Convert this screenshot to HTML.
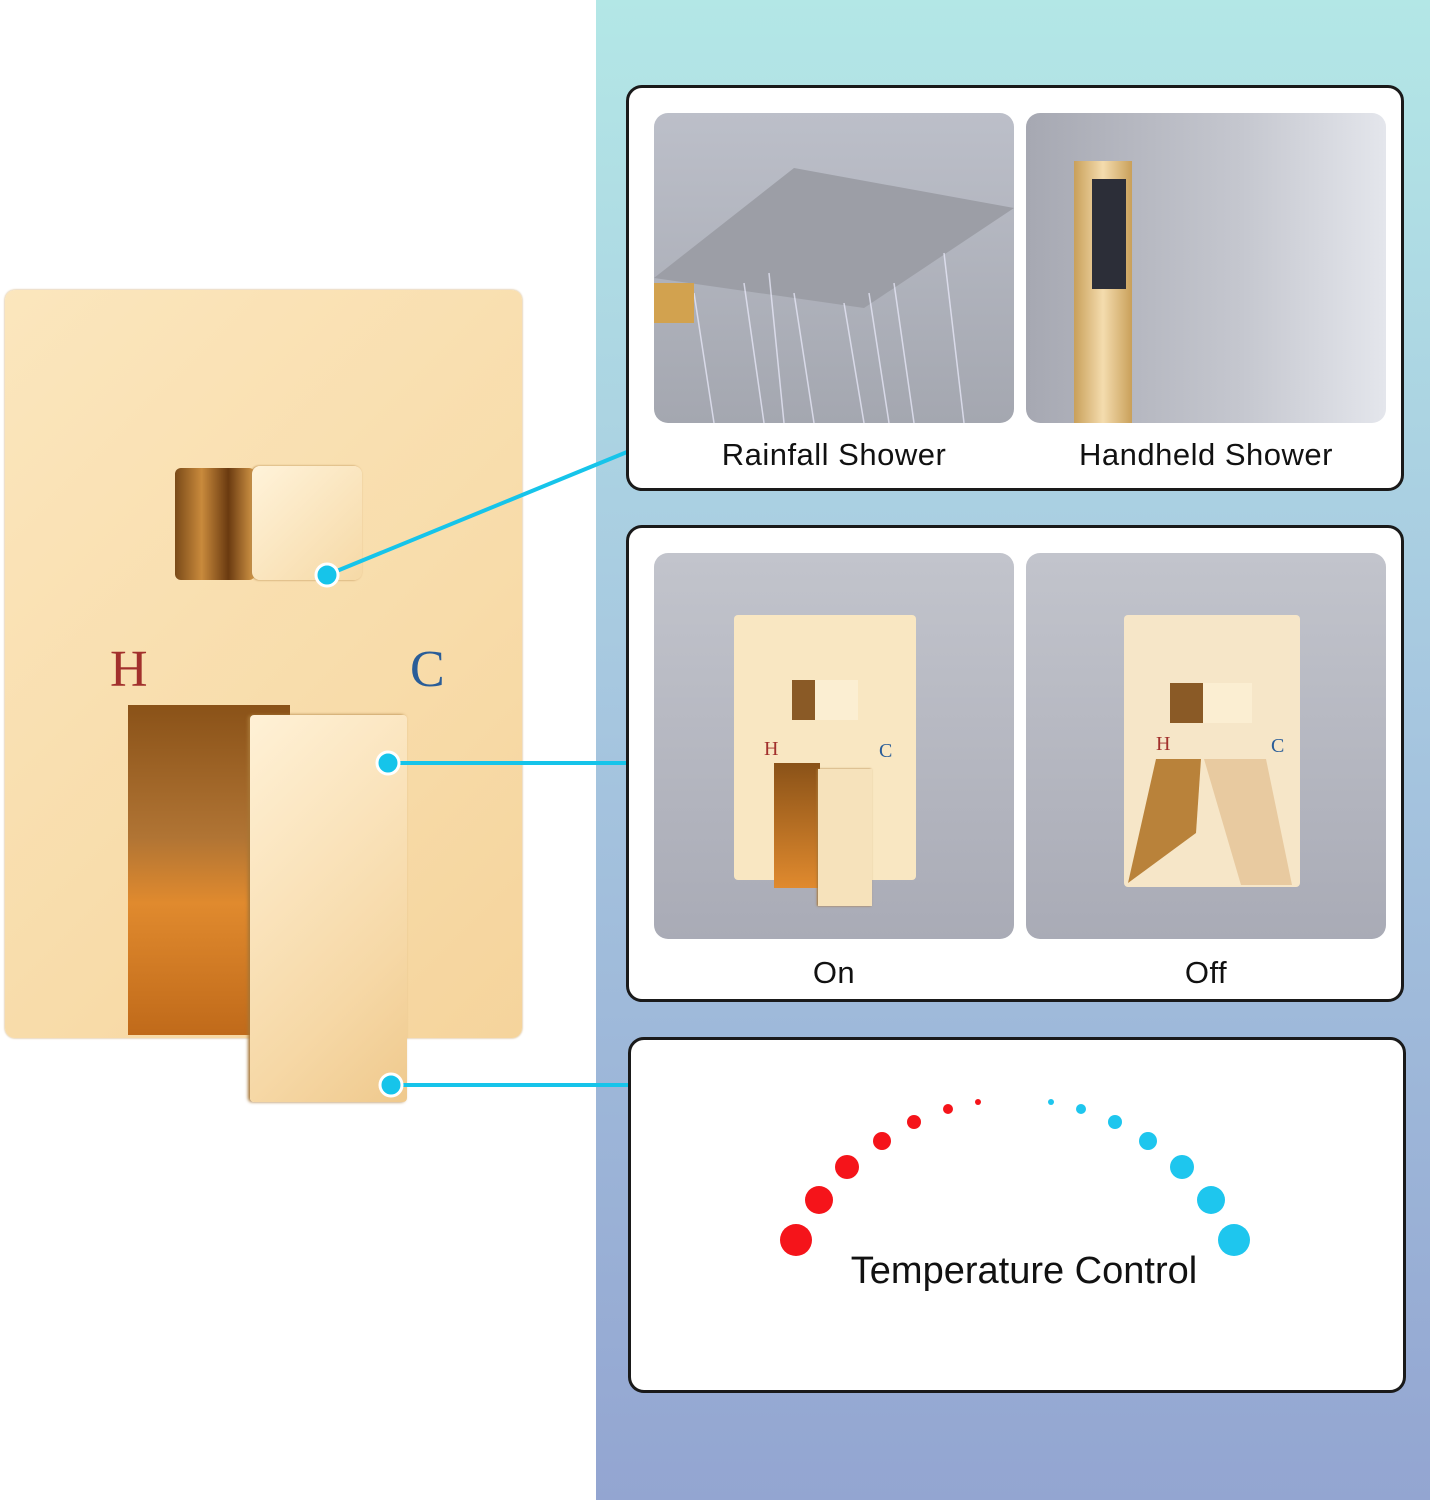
<!DOCTYPE html>
<html><head><meta charset="utf-8"><style>
*{margin:0;padding:0;box-sizing:border-box}
body{width:1430px;height:1500px;position:relative;background:#fff;overflow:hidden;font-family:"Liberation Sans",sans-serif}
.a{position:absolute}
.box{position:absolute;background:#fff;border:3px solid #1a1a1a;border-radius:16px}
.ph{position:absolute;border-radius:14px;overflow:hidden;background:linear-gradient(180deg,#c2c4cc,#a9abb6)}
.lbl{position:absolute;font-size:31px;color:#111;text-align:center;width:360px;letter-spacing:0.5px}
</style></head><body>
<div class="a" style="left:596px;top:0;width:834px;height:1500px;background:linear-gradient(180deg,#b3e7e6 0%,#a7c8e0 45%,#93a5d1 100%)"></div>

<!-- left plate -->
<div class="a" style="left:5px;top:290px;width:517px;height:748px;border-radius:10px;background:linear-gradient(135deg,#fbe6bd,#f8dcaa 60%,#f5d49c);box-shadow:0 0 2px #c9a46a"></div>
<div class="a" style="left:175px;top:468px;width:80px;height:112px;border-radius:6px;background:linear-gradient(90deg,#7a4a18,#c98a3c,#6a3a10,#d79a48)"></div>
<div class="a" style="left:252px;top:466px;width:110px;height:114px;border-radius:8px;background:linear-gradient(135deg,#fff3da,#f6d9a6);box-shadow:-1px 0 2px #b98a4c"></div>
<div class="a" style="left:110px;top:640px;font-family:'Liberation Serif',serif;font-size:52px;color:#a2302c">H</div>
<div class="a" style="left:410px;top:640px;font-family:'Liberation Serif',serif;font-size:52px;color:#2a5d98">C</div>
<div class="a" style="left:128px;top:705px;width:162px;height:330px;background:linear-gradient(180deg,#8a5218 0%,#b07434 40%,#e08a2e 60%,#c06a1a 100%)"></div>
<div class="a" style="left:250px;top:715px;width:157px;height:387px;border-radius:4px;background:linear-gradient(135deg,#fff1d6,#f6d8a6 70%,#efc98d);box-shadow:-2px 0 3px #a77636"></div>

<!-- connectors -->
<svg class="a" style="left:0;top:0" width="1430" height="1500">
<g stroke="#16c4ea" stroke-width="4"><line x1="327" y1="575" x2="627" y2="452"/><line x1="388" y1="763" x2="627" y2="763"/><line x1="391" y1="1085" x2="629" y2="1085"/></g>
<g fill="#16c4ea" stroke="#fff" stroke-width="3"><circle cx="327" cy="575" r="11"/><circle cx="388" cy="763" r="11"/><circle cx="391" cy="1085" r="11"/></g>
</svg>

<!-- box1 -->
<div class="box" style="left:626px;top:85px;width:778px;height:406px"></div>
<div class="ph" style="left:654px;top:113px;width:360px;height:310px;background:linear-gradient(180deg,#bcbfc9,#a4a7b0)">
<svg width="360" height="310"><polygon points="0,165 140,55 360,95 210,195" fill="#9c9ea6"/><g stroke="#eef" stroke-width="1.5" opacity="0.7"><line x1="40" y1="180" x2="60" y2="310"/><line x1="90" y1="170" x2="110" y2="310"/><line x1="140" y1="180" x2="160" y2="310"/><line x1="190" y1="190" x2="210" y2="310"/><line x1="240" y1="170" x2="260" y2="310"/><line x1="290" y1="140" x2="310" y2="310"/><line x1="115" y1="160" x2="130" y2="310"/><line x1="215" y1="180" x2="235" y2="310"/></g><rect x="0" y="170" width="40" height="40" fill="#d2a24f"/></svg></div>
<div class="ph" style="left:1026px;top:113px;width:360px;height:310px;background:linear-gradient(90deg,#a6a8b2,#c5c7cf 60%,#e4e6ec)">
<div class="a" style="left:48px;top:48px;width:58px;height:262px;background:linear-gradient(90deg,#c9a05a,#f4dcae,#c9a05a)"></div>
<div class="a" style="left:66px;top:66px;width:34px;height:110px;background:#2c2e38"></div></div>
<div class="lbl" style="left:654px;top:437px">Rainfall Shower</div>
<div class="lbl" style="left:1026px;top:437px">Handheld Shower</div>

<!-- box2 -->
<div class="box" style="left:626px;top:525px;width:778px;height:477px"></div>
<div class="ph" style="left:654px;top:553px;width:360px;height:386px">
<div class="a" style="left:80px;top:62px;width:182px;height:265px;border-radius:4px;background:#f9e7c2"></div>
<div class="a" style="left:138px;top:127px;width:66px;height:40px;background:linear-gradient(90deg,#8a5a26 35%,#fbeed2 35%)"></div>
<div class="a" style="left:120px;top:210px;width:46px;height:125px;background:linear-gradient(180deg,#8a5218,#e08a2e)"></div>
<div class="a" style="left:164px;top:216px;width:54px;height:137px;background:#f6e2bb;box-shadow:-1px 0 2px #a77636"></div>
<div class="a" style="left:110px;top:185px;font-family:'Liberation Serif',serif;font-size:20px;color:#a2302c">H</div>
<div class="a" style="left:225px;top:187px;font-family:'Liberation Serif',serif;font-size:20px;color:#2a5d98">C</div></div>
<div class="ph" style="left:1026px;top:553px;width:360px;height:386px">
<div class="a" style="left:98px;top:62px;width:176px;height:272px;border-radius:4px;background:#f6e6c8"></div>
<div class="a" style="left:144px;top:130px;width:82px;height:40px;background:linear-gradient(90deg,#8a5a26 40%,#fbeed2 40%)"></div>
<svg class="a" style="left:0;top:0" width="360" height="386"><polygon points="130,206 175,206 170,280 102,330" fill="#b9823a"/><polygon points="178,206 240,206 266,332 215,332" fill="#e8caa0"/></svg>
<div class="a" style="left:130px;top:180px;font-family:'Liberation Serif',serif;font-size:20px;color:#a2302c">H</div>
<div class="a" style="left:245px;top:182px;font-family:'Liberation Serif',serif;font-size:20px;color:#2a5d98">C</div></div>
<div class="lbl" style="left:654px;top:955px">On</div>
<div class="lbl" style="left:1026px;top:955px">Off</div>

<!-- box3 -->
<div class="box" style="left:628px;top:1037px;width:778px;height:356px"></div>
<svg class="a" style="left:0;top:0" width="1430" height="1500">
<g fill="#f5141a"><circle cx="796" cy="1240" r="16"/><circle cx="819" cy="1200" r="14"/><circle cx="847" cy="1167" r="12"/><circle cx="882" cy="1141" r="9"/><circle cx="914" cy="1122" r="7"/><circle cx="948" cy="1109" r="5"/><circle cx="978" cy="1102" r="3"/></g>
<g fill="#1ec6ee"><circle cx="1051" cy="1102" r="3"/><circle cx="1081" cy="1109" r="5"/><circle cx="1115" cy="1122" r="7"/><circle cx="1148" cy="1141" r="9"/><circle cx="1182" cy="1167" r="12"/><circle cx="1211" cy="1200" r="14"/><circle cx="1234" cy="1240" r="16"/></g>
</svg>
<div class="a" style="left:774px;top:1250px;width:500px;text-align:center;font-size:38px;color:#111">Temperature Control</div>
</body></html>
